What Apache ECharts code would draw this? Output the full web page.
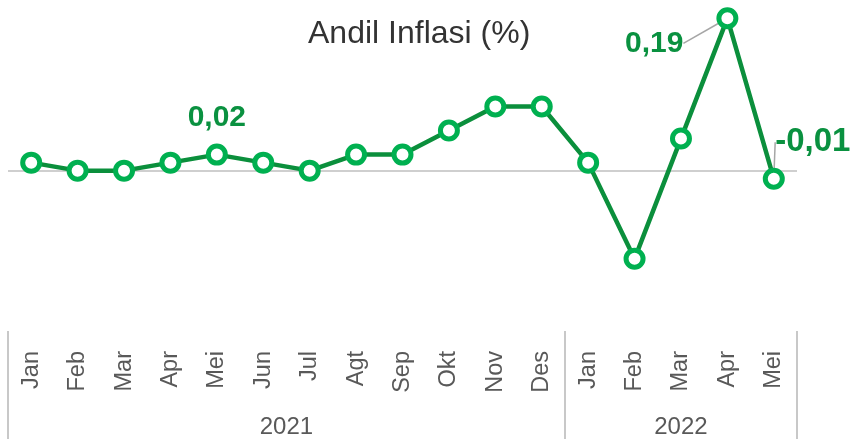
<!DOCTYPE html>
<html>
<head>
<meta charset="utf-8">
<script src="https://cdn.jsdelivr.net/npm/echarts@6/dist/echarts.min.js"></script>
<style>
  html, body { margin: 0; padding: 0; background: #fff; }
  #chart { width: 856px; height: 439px; }
</style>
</head>
<body>
<div id="chart"></div>
<script>
// ---- data ----
const titleText = 'Andil Inflasi (%)';
const months = ['Jan','Feb','Mar','Apr','Mei','Jun','Jul','Agt','Sep','Okt','Nov','Des','Jan','Feb','Mar','Apr','Mei'];
const values = [0.01, 0.00, 0.00, 0.01, 0.02, 0.01, 0.00, 0.02, 0.02, 0.05, 0.08, 0.08, 0.01, -0.11, 0.04, 0.19, -0.01];
const years = ['2021', '2022'];
const yearCounts = [12, 5];
const labeledIndices = [4, 15, 16];

// ---- derived ----
const yearBounds = [-0.5];
const yearCenters = [];
let start = 0;
yearCounts.forEach(c => {
  yearCenters.push(start + (c - 1) / 2);
  start += c;
  yearBounds.push(start - 0.5);
});

const condensed = "'Liberation Sans Narrow', 'Arial Narrow', 'Liberation Sans', Arial, sans-serif";
const regular = "'Liberation Sans', Arial, sans-serif";
const fmt = v => v.toFixed(2).replace('.', ',');

const labelSizes = {4: 30, 15: 30, 16: 33};
const labelPos = {4: 'top', 15: 'left', 16: 'top'};

const seriesData = values.map((v, i) => {
  if (labeledIndices.indexOf(i) < 0) return v;
  return {
    value: v,
    label: {
      show: true,
      position: labelPos[i],
      distance: i === 4 ? 11 : (i === 15 ? 33 : 4),
      formatter: p => fmt(p.value),
      fontFamily: condensed,
      fontWeight: 'bold',
      fontSize: labelSizes[i],
      color: '#0a9140'
    },
    labelLine: { show: i !== 4 }
  };
});

const chart = echarts.init(document.getElementById('chart'), null, { renderer: 'canvas' });
chart.setOption({
  animation: false,
  title: {
    text: titleText,
    left: 303,
    top: 13,
    textStyle: { fontFamily: regular, fontWeight: 'normal', fontSize: 32, color: '#333333' }
  },
  grid: { left: 8, right: 59, top: 10.3, bottom: 108, containLabel: false },
  xAxis: [
    {
      type: 'category',
      data: months,
      boundaryGap: true,
      position: 'bottom',
      axisLine: { show: false },
      axisTick: { show: false },
      axisLabel: {
        rotate: 90,
        margin: 20,
        interval: 0,
        fontFamily: regular,
        fontSize: 23.5,
        color: '#595959'
      }
    },
    {
      type: 'value',
      min: -0.5,
      max: 16.5,
      position: 'bottom',
      axisLine: { show: false },
      splitLine: { show: false },
      axisTick: {
        show: true,
        customValues: yearBounds,
        length: 110,
        lineStyle: { color: '#c8c8c8', width: 2 }
      },
      axisLabel: {
        show: true,
        customValues: yearCenters,
        margin: 84,
        formatter: v => {
          const k = yearCenters.findIndex(c => Math.abs(c - v) < 1e-6);
          return k >= 0 ? years[k] : '';
        },
        fontFamily: condensed,
        fontSize: 24,
        color: '#595959'
      }
    }
  ],
  yAxis: {
    type: 'value',
    min: -0.2,
    max: 0.2,
    show: false,
    splitLine: { show: false }
  },
  series: [
    {
      type: 'line',
      data: seriesData,
      xAxisIndex: 0,
      z: 3,
      symbol: 'circle',
      symbolSize: 17,
      showAllSymbol: true,
      lineStyle: { color: '#0b8f3c', width: 4.5 },
      itemStyle: { color: '#ffffff', borderColor: '#00b050', borderWidth: 5 },
      labelLine: { show: true, lineStyle: { color: '#a6a6a6', width: 1.5 } },
      labelLayout: function (p) {
        if (p.dataIndex === 15) return { dy: 25 };
        if (p.dataIndex === 16) return { dx: 39, dy: -5 };
        return {};
      },
      markLine: {
        silent: true,
        symbol: 'none',
        label: { show: false },
        lineStyle: { color: '#bfbfbf', width: 1.5, type: 'solid' },
        data: [{ yAxis: 0 }],
        z: 1
      }
    }
  ]
});
</script>
</body>
</html>
